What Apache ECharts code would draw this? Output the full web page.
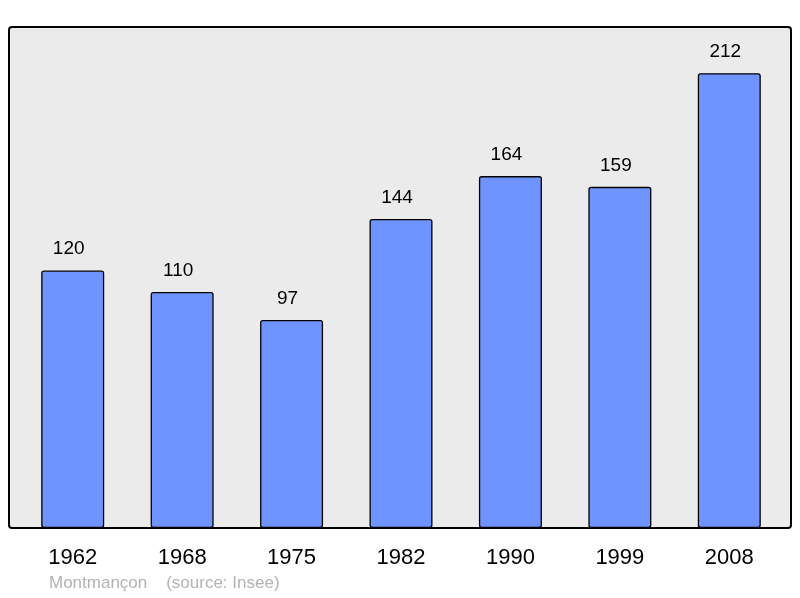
<!DOCTYPE html>
<html>
<head>
<meta charset="utf-8">
<script src="https://cdn.jsdelivr.net/npm/echarts@6/dist/echarts.min.js"></script>
<style>
  html, body { margin: 0; padding: 0; background: #fff; }
  #chart { width: 800px; height: 598px; }
</style>
</head>
<body>
<div id="chart"></div>
<script>
// population by census year
const years = ["1962", "1968", "1975", "1982", "1990", "1999", "2008"];
const population = [120, 110, 97, 144, 164, 159, 212];
const townName = "Montmançon";
const sourceText = "(source: Insee)";

var chart = echarts.init(document.getElementById("chart"));

var option = {
	animation: false,
	grid: { left: 18, right: 16, top: 27, bottom: 70 },
	graphic: [
		{
			type: "rect",
			z: -10,
			shape: { x: 9, y: 27, width: 782, height: 501, r: 3 },
			style: { fill: "#ebebeb", stroke: "#000", lineWidth: 2 },
		},
		{
			type: "text",
			left: 49,
			top: 575,
			style: {
				text: townName + "    " + sourceText,
				fill: "#b3b3b3",
				font: "17px 'Liberation Sans', Arial, sans-serif",
			},
		},
	],
	xAxis: {
		type: "category",
		data: years,
		axisLine: { show: false },
		axisTick: { show: false },
		axisLabel: {
			color: "#000",
			fontSize: 22,
			fontFamily: "Liberation Sans",
			margin: 19,
		},
	},
	yAxis: {
		type: "value",
		min: 0,
		max: 233.5,
		show: false,
		splitLine: { show: false },
	},
	series: [
		{
			type: "bar",
			data: population,
			barWidth: 63,
			itemStyle: {
				color: "#7094ff",
				borderColor: "#000",
				borderWidth: 1.3,
				borderRadius: 2,
			},
			label: {
				show: true,
				position: "top",
				distance: 12,
				offset: [-4, 0],
				color: "#000",
				fontSize: 19,
				fontFamily: "Liberation Sans",
			},
		},
	],
};

chart.setOption(option);
</script>
</body>
</html>
